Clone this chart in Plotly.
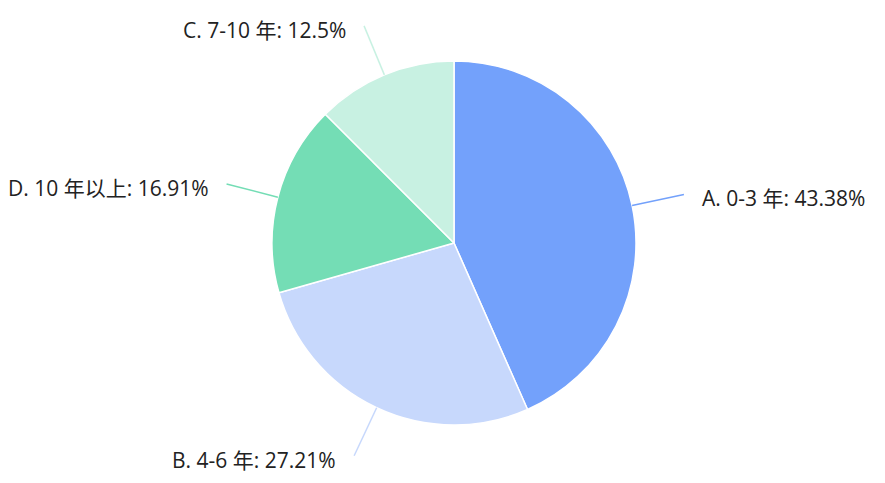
import math
import plotly.graph_objects as go

labels = ["A. 0-3 年", "B. 4-6 年", "C. 7-10 年", "D. 10 年以上"]
values = [43.38, 27.21, 12.5, 16.91]
colors = ["#73a1fb", "#c7d8fc", "#c8f1e2", "#74ddb5"]

W, H = 885, 483
OFF = 8                              # page body margin of the html page
CX, CY, R = 454, 243, 182            # pie centre / radius in screen px
LEN1, R_END, GAP = 18, 235, 16       # leader line geometry
FONT = "Open Sans, Noto Sans CJK SC, sans-serif"

def px(x):
    return (x - OFF) / W

def py(y):
    return 1 - (y - OFF) / H

fig = go.Figure()
fig.add_trace(go.Pie(
    labels=labels, values=values,
    marker=dict(colors=colors, line=dict(color="white", width=1.5)),
    sort=True, direction="clockwise", rotation=0,
    textinfo="none", hoverinfo="label+percent",
    domain=dict(x=[px(CX - R), px(CX + R)], y=[py(CY + R), py(CY - R)]),
    showlegend=False,
))

order = sorted(range(len(values)), key=lambda i: -values[i])
total = sum(values)
cum = 0.0
shapes, annotations = [], []
for i in order:
    frac = values[i] / total
    mid = (cum + frac / 2) * 2 * math.pi
    cum += frac
    dx, dy = math.sin(mid), -math.cos(mid)
    x0, y0 = CX + R * dx, CY + R * dy
    x1, y1 = CX + (R + LEN1) * dx, CY + (R + LEN1) * dy
    x2, y2 = CX + R_END * dx, CY + R_END * dy
    path = f"M {px(x0)},{py(y0)} Q {px(x1)},{py(y1)} {px(x2)},{py(y2)}"
    shapes.append(dict(type="path", xref="paper", yref="paper", path=path,
                       line=dict(color=colors[i], width=1.5)))
    right = dx > 0
    pct = f"{values[i]:g}%"
    annotations.append(dict(
        xref="paper", yref="paper",
        x=px(x2 + (GAP if right else -GAP)), y=py(y2 + 4),
        text=f"{labels[i]}: {pct}", showarrow=False,
        xanchor="left" if right else "right", yanchor="middle",
        font=dict(family=FONT, size=21, color="#222"),
    ))

fig.update_layout(
    width=W, height=H,
    margin=dict(l=0, r=0, t=0, b=0),
    paper_bgcolor="white", plot_bgcolor="white",
    xaxis=dict(visible=False), yaxis=dict(visible=False),
    shapes=shapes, annotations=annotations,
)
fig.write_html("out.html")
